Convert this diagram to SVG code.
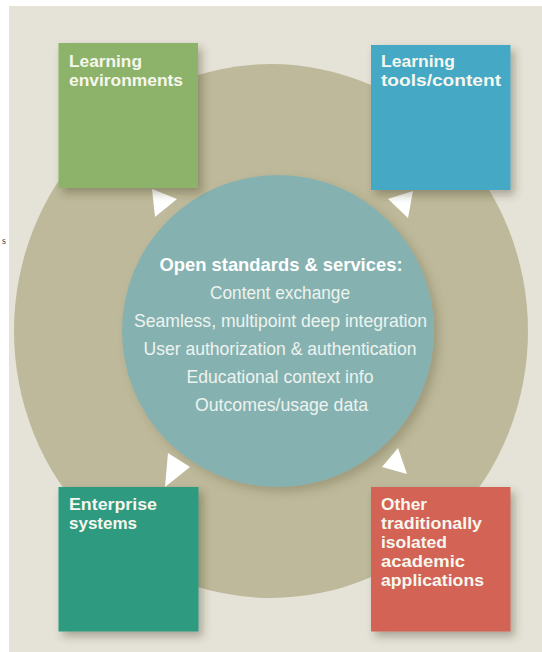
<svg xmlns="http://www.w3.org/2000/svg" width="542" height="652" viewBox="0 0 542 652">
<defs>
<style>
.lbl{font-family:"Liberation Sans",Arial,sans-serif;font-weight:bold;font-size:17px;fill:#f6f7ee}
.ctr{font-family:"Liberation Sans",Arial,sans-serif;font-size:19px;fill:#eef3ef;text-anchor:middle}
.ttl{font-weight:bold;fill:#ffffff}
.arr{fill:#ffffff}
</style>
<filter id="sh" x="-20%" y="-20%" width="150%" height="150%">
<feDropShadow dx="4" dy="5" stdDeviation="4" flood-color="#3a3520" flood-opacity="0.35"/>
</filter>
<filter id="csh" x="-20%" y="-20%" width="150%" height="150%">
<feDropShadow dx="5" dy="5" stdDeviation="5" flood-color="#5a5535" flood-opacity="0.3"/>
</filter>
</defs>
<rect x="0" y="0" width="542" height="652" fill="#ffffff"/>
<rect x="9" y="6" width="533" height="646" fill="#e5e3d8"/>
<text x="2" y="244" font-family="Liberation Serif,serif" font-size="10" fill="#444">s</text>
<g id="ring">
<ellipse cx="271" cy="331" rx="257" ry="267" fill="#bdb99a"/>
</g>
<g id="hub">
<circle cx="278" cy="331" r="156" fill="#85b2b0" filter="url(#csh)"/>
<text class="ctr ttl" x="281" y="271" textLength="243" lengthAdjust="spacingAndGlyphs">Open standards &amp; services:</text>
<text class="ctr" x="280" y="299" textLength="140" lengthAdjust="spacingAndGlyphs">Content exchange</text>
<text class="ctr" x="280.5" y="327" textLength="293" lengthAdjust="spacingAndGlyphs">Seamless, multipoint deep integration</text>
<text class="ctr" x="280" y="355" textLength="273" lengthAdjust="spacingAndGlyphs">User authorization &amp; authentication</text>
<text class="ctr" x="280" y="383" textLength="187" lengthAdjust="spacingAndGlyphs">Educational context info</text>
<text class="ctr" x="281.5" y="411" textLength="173" lengthAdjust="spacingAndGlyphs">Outcomes/usage data</text>
</g>
<g id="connectors">
<polygon class="arr" points="152,189 177,199 155,217"/>
<polygon class="arr" points="388,199 413,191 408,218"/>
<polygon class="arr" points="168,453 190,467 165,487"/>
<polygon class="arr" points="398,448 382,467 407,474"/>
</g>
<g id="learning-environments">
<rect x="58.5" y="43" width="139.5" height="145" fill="#8db36a" filter="url(#sh)"/>
<text class="lbl" x="69" y="67" textLength="73" lengthAdjust="spacingAndGlyphs">Learning</text>
<text class="lbl" x="69" y="86" textLength="114" lengthAdjust="spacingAndGlyphs">environments</text>
</g>
<g id="learning-tools">
<rect x="371" y="45" width="139.5" height="145" fill="#45a9c5" filter="url(#sh)"/>
<text class="lbl" x="381" y="67" textLength="74" lengthAdjust="spacingAndGlyphs">Learning</text>
<text class="lbl" x="381" y="86" textLength="120" lengthAdjust="spacingAndGlyphs">tools/content</text>
</g>
<g id="enterprise-systems">
<rect x="58.5" y="487" width="140" height="144.5" fill="#2f9a80" filter="url(#sh)"/>
<text class="lbl" x="69" y="510" textLength="88" lengthAdjust="spacingAndGlyphs">Enterprise</text>
<text class="lbl" x="69" y="529" textLength="68" lengthAdjust="spacingAndGlyphs">systems</text>
</g>
<g id="other-applications">
<rect x="371" y="487" width="139.5" height="144.5" fill="#d36355" filter="url(#sh)"/>
<text class="lbl" x="381" y="510" textLength="46" lengthAdjust="spacingAndGlyphs">Other</text>
<text class="lbl" x="381" y="529" textLength="101" lengthAdjust="spacingAndGlyphs">traditionally</text>
<text class="lbl" x="381" y="548" textLength="66" lengthAdjust="spacingAndGlyphs">isolated</text>
<text class="lbl" x="381" y="567" textLength="84" lengthAdjust="spacingAndGlyphs">academic</text>
<text class="lbl" x="381" y="586" textLength="103" lengthAdjust="spacingAndGlyphs">applications</text>
</g>
</svg>
